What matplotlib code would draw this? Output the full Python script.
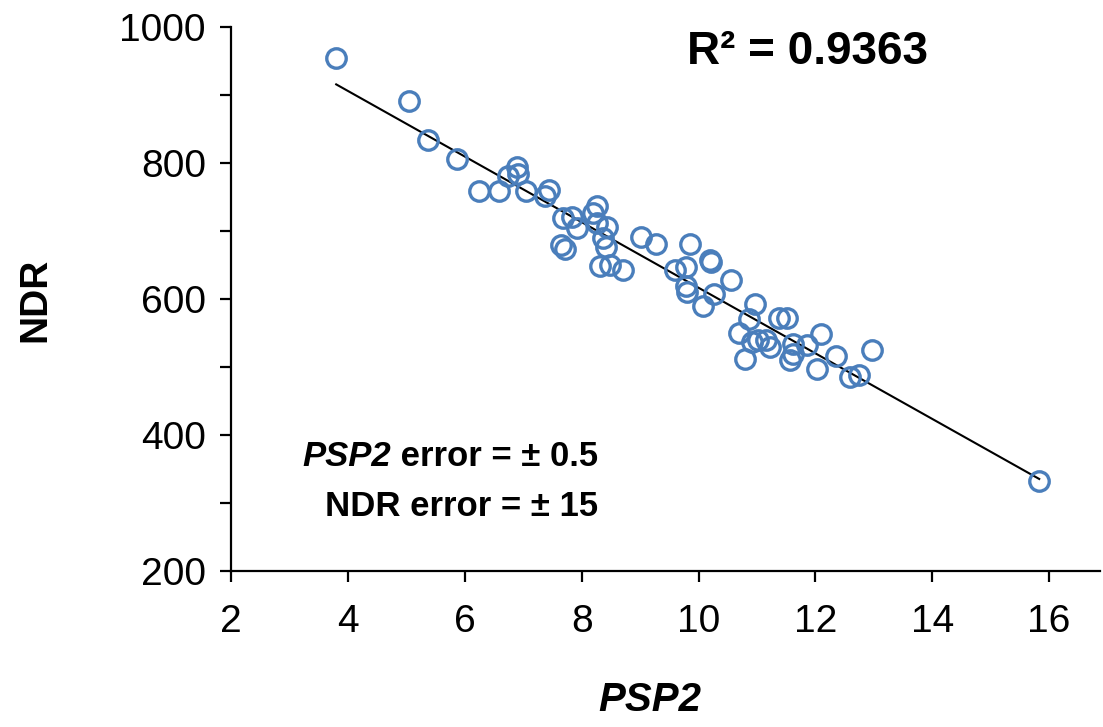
import numpy as np
import matplotlib
matplotlib.use("Agg")
from matplotlib import pyplot as plt
from matplotlib.ticker import MultipleLocator

# values
psp2 = [3.80, 5.04, 5.37, 5.86, 6.24, 6.58, 6.74, 6.89, 6.91, 7.04,
        7.37, 7.45, 7.64, 7.68, 7.71, 7.83, 7.92, 8.19, 8.27, 8.26,
        8.36, 8.41, 8.44, 8.31, 8.48, 8.70, 9.01, 9.28, 9.85, 9.59,
        9.78, 9.78, 9.81, 10.07, 10.19, 10.22, 10.27, 10.56, 10.70, 10.79,
        10.87, 10.96, 10.91, 11.01, 11.15, 11.23, 11.37, 11.52, 11.56, 11.62,
        11.61, 11.86, 12.10, 12.03, 12.36, 12.60, 12.75, 12.97, 15.83]
ndr = [954, 891, 834, 806, 759, 759, 781, 794, 784, 759,
       752, 760, 679, 719, 674, 721, 704, 727, 737, 712,
       690, 677, 706, 649, 650, 643, 691, 681, 681, 643,
       647, 619, 610, 590, 657, 654, 607, 628, 550, 512,
       571, 593, 537, 540, 540, 529, 572, 572, 510, 534,
       519, 532, 549, 497, 516, 485, 488, 525, 332]
ytick_vals = list(range(200, 1001, 100))
ytick_labels = [str(v) if v % 200 == 0 else "" for v in ytick_vals]

x = np.array(psp2)
y = np.array(ndr)
# linear trend line through the points
slope, intercept = np.polyfit(x, y, 1)

plt.rcParams["font.family"] = ["Liberation Sans", "DejaVu Sans"]

fig = plt.figure(figsize=(11.03, 7.27), dpi=100)
ax = fig.add_axes([231 / 1103, 156 / 727, (1100 - 231) / 1103, (571 - 27) / 727])

ax.plot(x, y, "o", markersize=14, markerfacecolor="none",
        markeredgecolor="#4A7EBB", markeredgewidth=2.4, zorder=3)
xs = np.array([x.min(), x.max()])
ax.plot(xs, slope * xs + intercept, color="black", linewidth=1.5, zorder=2)

ax.set_xlim(2, 16.87)
ax.set_ylim(200, 1000)
ax.xaxis.set_major_locator(MultipleLocator(2))
ax.set_yticks(ytick_vals)
ax.set_yticklabels(ytick_labels)

for s in ["top", "right"]:
    ax.spines[s].set_visible(False)
for s in ["left", "bottom"]:
    ax.spines[s].set_linewidth(1.6)
ax.tick_params(direction="out", length=8, width=1.6, labelsize=28, pad=10)
ax.tick_params(axis="x", pad=16)

fig.text(35 / 1103, 1 - 300 / 727, "NDR", rotation=90, fontsize=28,
         fontweight="bold", ha="center", va="center")
fig.text(650 / 1103, 1 - 700 / 727, "PSP2", fontsize=29, fontweight="bold",
         fontstyle="italic", ha="center", va="center")

fig.text(687 / 1103, 1 - 52 / 727, "R² = 0.9363", fontsize=33,
         fontweight="bold", ha="left", va="center")

# error notes, first one starts with an italic PSP2
t1 = fig.text(598 / 1103, 1 - 457 / 727, " error = ± 0.5", fontsize=25,
              fontweight="bold", ha="right", va="center")
fig.text(598 / 1103, 1 - 507 / 727, "NDR error = ± 15", fontsize=25,
         fontweight="bold", ha="right", va="center")
ax.annotate("PSP2", xy=(0, 0), xycoords=t1, fontsize=25, fontweight="bold",
            fontstyle="italic", ha="right", va="bottom", annotation_clip=False)

fig.savefig("out.png", dpi=100)
